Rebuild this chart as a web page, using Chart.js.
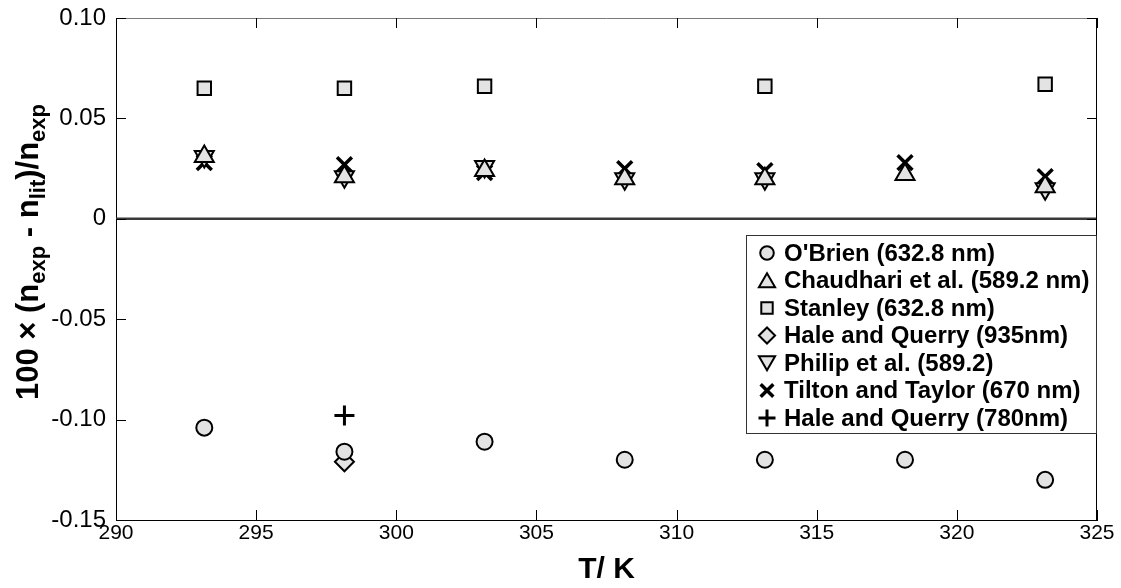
<!DOCTYPE html>
<html>
<head>
<meta charset="utf-8">
<script src="https://cdn.jsdelivr.net/npm/chart.js@4/dist/chart.umd.min.js"></script>
<style>
  html, body { margin: 0; padding: 0; background: #fff; }
  #wrap { width: 1121px; height: 588px; position: relative; }
</style>
</head>
<body>
<div id="wrap"><canvas id="c" width="1121" height="588"></canvas></div>
<script>
// ---- data ----
const temps = [293.15, 298.15, 303.15, 308.15, 313.15, 318.15, 323.15];
const obrien    = [-0.104, -0.116, -0.111, -0.120, -0.120, -0.120, -0.130];
const chaudhari = [0.031, 0.021, 0.024, 0.020, 0.020, 0.022, 0.016];
const stanley   = [0.065, 0.065, 0.066, null, 0.066, null, 0.067];
const hale935   = [null, -0.121, null, null, null, null, null];
const philip    = [0.031, 0.021, 0.026, 0.020, 0.020, null, 0.015];
const tilton    = [0.028, 0.027, 0.023, 0.025, 0.024, 0.028, 0.021];
const hale780   = [null, -0.098, null, null, null, null, null];

const seriesNames = [
  "O'Brien (632.8 nm)",
  "Chaudhari et al. (589.2 nm)",
  "Stanley (632.8 nm)",
  "Hale and Querry (935nm)",
  "Philip et al. (589.2)",
  "Tilton and Taylor (670 nm)",
  "Hale and Querry (780nm)"
];
const xTicks = [290, 295, 300, 305, 310, 315, 320, 325];
const yTicks = [-0.15, -0.10, -0.05, 0, 0.05, 0.10];
const yTickLabels = ["-0.15", "-0.10", "-0.05", "0", "0.05", "0.10"];

const FONT = "'Liberation Sans', Arial, Helvetica, sans-serif";
const FILL = '#e3e3e3';

function pts(vals) {
  const out = [];
  temps.forEach((t, i) => { if (vals[i] !== null) out.push({x: t, y: vals[i]}); });
  return out;
}

function ds(label, vals, style, radius, rotation, bw) {
  return {
    label: label,
    data: pts(vals),
    pointStyle: style,
    pointRadius: radius,
    pointHoverRadius: radius,
    pointRotation: rotation || 0,
    pointBackgroundColor: FILL,
    pointBorderColor: '#000',
    pointBorderWidth: bw || 2,
    backgroundColor: FILL,
    borderColor: '#000',
    showLine: false
  };
}

const datasets = [
  ds(seriesNames[0], obrien, 'circle', 8, 0, 2),
  ds(seriesNames[1], chaudhari, 'triangle', 11, 0, 2),
  ds(seriesNames[2], stanley, 'rect', 9.5, 0, 2),
  ds(seriesNames[3], hale935, 'rectRot', 9.5, 0, 2),
  ds(seriesNames[4], philip, 'triangle', 11, 180, 2),
  ds(seriesNames[5], tilton, 'crossRot', 10.5, 0, 3.5),
  ds(seriesNames[6], hale780, 'cross', 10, 0, 3)
];

const framePlugin = {
  id: 'frame',
  beforeDatasetsDraw(chart) {
    const {ctx, chartArea: a, scales: {x, y}} = chart;
    ctx.save();
    const y0 = y.getPixelForValue(0);
    ctx.strokeStyle = '#3a3a3a';
    ctx.lineWidth = 2.5;
    ctx.beginPath(); ctx.moveTo(a.left, y0); ctx.lineTo(a.right, y0); ctx.stroke();
    ctx.strokeStyle = '#7a7a7a';
    ctx.lineWidth = 1;
    ctx.beginPath(); ctx.moveTo(a.left, a.top + 0.5); ctx.lineTo(a.right, a.top + 0.5); ctx.stroke();
    ctx.strokeStyle = '#000';
    ctx.beginPath(); ctx.moveTo(a.right - 0.5, a.top); ctx.lineTo(a.right - 0.5, a.bottom); ctx.stroke();
    const tl = 10;
    xTicks.forEach(v => {
      const px = Math.round(x.getPixelForValue(v)) + 0.5;
      ctx.beginPath(); ctx.moveTo(px, a.bottom); ctx.lineTo(px, a.bottom - tl); ctx.stroke();
      ctx.beginPath(); ctx.moveTo(px, a.top); ctx.lineTo(px, a.top + tl); ctx.stroke();
    });
    yTicks.forEach(v => {
      const py = Math.round(y.getPixelForValue(v)) + 0.5;
      ctx.beginPath(); ctx.moveTo(a.left, py); ctx.lineTo(a.left + tl, py); ctx.stroke();
      ctx.beginPath(); ctx.moveTo(a.right, py); ctx.lineTo(a.right - tl, py); ctx.stroke();
    });
    ctx.restore();
  },
  afterDraw(chart) {
    const {ctx, chartArea: a} = chart;
    ctx.save();
    const size = 31, sub = 22;
    const parts = [
      ['100 \u00d7 (n', size, 0],
      ['exp', sub, 1],
      [' - n', size, 0],
      ['lit', sub, 1],
      [')/n', size, 0],
      ['exp', sub, 1]
    ];
    let total = 0;
    parts.forEach(p => { ctx.font = 'bold ' + p[1] + 'px ' + FONT; total += ctx.measureText(p[0]).width; });
    ctx.translate(29, 252);
    ctx.rotate(-Math.PI / 2);
    ctx.fillStyle = '#000';
    ctx.textBaseline = 'alphabetic';
    let cx = -total / 2;
    parts.forEach(p => {
      ctx.font = 'bold ' + p[1] + 'px ' + FONT;
      ctx.fillText(p[0], cx, 9 + (p[2] ? 7 : 0));
      cx += ctx.measureText(p[0]).width;
    });
    ctx.restore();

    ctx.save();
    const lx = 746, ly = 235, lw = a.right - 1 - 746, lh = 198;
    ctx.fillStyle = '#fff';
    ctx.fillRect(lx, ly, lw, lh);
    ctx.strokeStyle = '#333';
    ctx.lineWidth = 1;
    ctx.strokeRect(lx + 0.5, ly + 0.5, lw, lh);
    ctx.font = 'bold 24px ' + FONT;
    ctx.textBaseline = 'middle';
    ctx.fillStyle = '#000';
    chart.data.datasets.forEach((d, i) => {
      const cy = ly + 18 + i * 27.5;
      const opts = {
        pointStyle: d.pointStyle,
        rotation: d.pointRotation,
        radius: d.pointRadius * 0.85,
        borderWidth: d.pointBorderWidth
      };
      ctx.fillStyle = d.pointBackgroundColor;
      ctx.strokeStyle = d.pointBorderColor;
      ctx.lineWidth = d.pointBorderWidth;
      Chart.helpers.drawPoint(ctx, opts, lx + 21, cy + (d.pointStyle === 'triangle' ? (d.pointRotation ? -2 : 2) : 0));
      ctx.fillStyle = '#000';
      ctx.fillText(d.label, lx + 38, cy + 1);
    });
    ctx.restore();
  }
};

new Chart(document.getElementById('c'), {
  type: 'scatter',
  data: { datasets: datasets },
  plugins: [framePlugin],
  options: {
    responsive: false,
    animation: false,
    events: [],
    layout: { padding: { left: 0, right: 24, top: 18, bottom: 0 } },
    plugins: { legend: { display: false }, tooltip: { enabled: false } },
    scales: {
      x: {
        type: 'linear',
        min: 290, max: 325,
        afterBuildTicks: s => { s.ticks = xTicks.map(v => ({value: v})); },
        afterFit: s => { s.height = 68; s.paddingLeft = 0; s.paddingRight = 0; },
        grid: { display: false, drawTicks: false },
        border: { display: true, color: '#000', width: 1 },
        ticks: { color: '#000', padding: 1, font: { family: FONT, size: 21 }, maxRotation: 0,
                 callback: v => String(v) },
        title: { display: true, text: 'T/ K', color: '#000', padding: { top: 0, bottom: 0 },
                 font: { family: FONT, size: 30, weight: 'bold' } }
      },
      y: {
        type: 'linear',
        min: -0.15, max: 0.10,
        afterBuildTicks: s => { s.ticks = yTicks.map(v => ({value: v})); },
        afterFit: s => { s.width = 116; s.paddingTop = 0; s.paddingBottom = 0; },
        grid: { display: false, drawTicks: false },
        border: { display: true, color: '#000', width: 1 },
        ticks: { color: '#000', padding: 10, font: { family: FONT, size: 24 },
                 callback: (v, i) => yTickLabels[i] }
      }
    }
  }
});
</script>
</body>
</html>
